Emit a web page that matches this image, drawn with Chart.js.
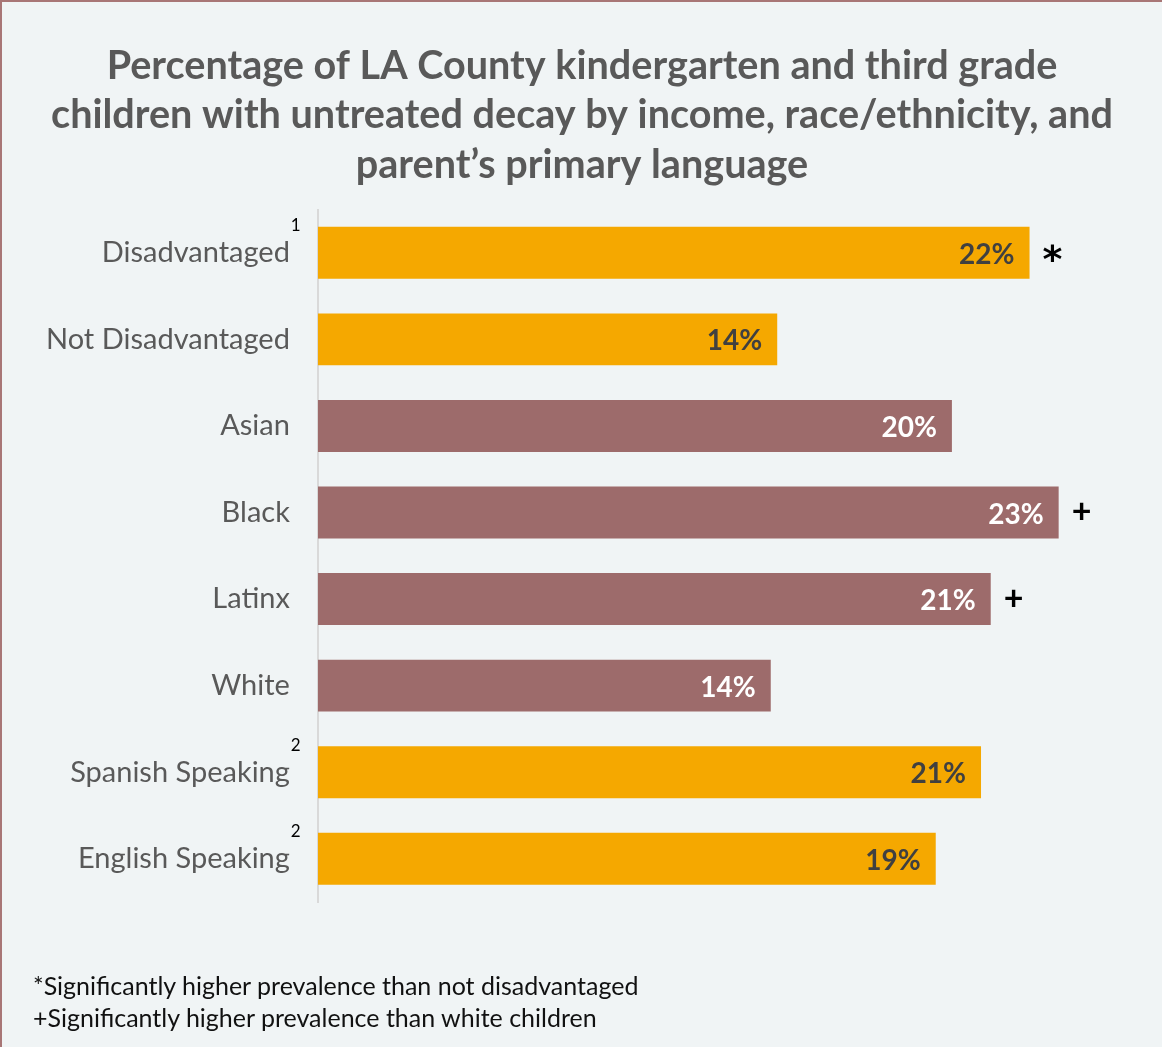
<!DOCTYPE html>
<html>
<head>
<meta charset="utf-8">
<script src="https://cdn.jsdelivr.net/npm/chart.js@4/dist/chart.umd.min.js"></script>
<style>
    html, body { margin: 0; padding: 0; }
    body { width: 1162px; height: 1047px; overflow: hidden; }
    #frame {
        position: relative;
        width: 1160px; height: 1045px;
        background: #f0f4f5;
        border-left: 2px solid #a87676;
        border-top: 2px solid #a87676;
    }
    #grafica { position: absolute; left: 0; top: 0; }
    .nota {
        position: absolute; left: 31px;
        font-family: Lato, "Open Sans", sans-serif;
        font-size: 25px; color: #111;
    }
</style>
</head>
<body>
<div id="frame">
    <canvas id="grafica" width="1160" height="1045"></canvas>
    <div class="nota" style="top:968px">*Significantly higher prevalence than not disadvantaged</div>
    <div class="nota" style="top:1000px">+Significantly higher prevalence than white children</div>
</div>
<script>
const categorias = ['Disadvantaged', 'Not Disadvantaged', 'Asian', 'Black', 'Latinx', 'White', 'Spanish Speaking', 'English Speaking'];
const grupos = ['income', 'income', 'race', 'race', 'race', 'race', 'language', 'language'];
const valores = [22.0, 14.2, 19.6, 22.9, 20.8, 14.0, 20.5, 19.1];
const etiquetas = ['22%', '14%', '20%', '23%', '21%', '14%', '21%', '19%'];
const superindices = ['1', '', '', '', '', '', '2', '2'];
const marcas = ['*', '', '', '+', '+', '', '', ''];
const titulo = [
    'Percentage of LA County kindergarten and third grade',
    'children with untreated decay by income, race/ethnicity, and',
    'parent\u2019s primary language'
];

const FUENTE = 'Lato, "Open Sans", sans-serif';
const colorGrupo = { income: '#f5a800', race: '#9d6b6b', language: '#f5a800' };
const colorTexto = { income: '#404040', race: '#ffffff', language: '#404040' };

// Etiquetas de valor, marcas de significancia y superindices
const anotaciones = {
    id: 'anotaciones',
    afterDatasetsDraw(chart) {
        const ctx = chart.ctx;
        const meta = chart.getDatasetMeta(0);
        const yScale = chart.scales.y;
        ctx.save();
        meta.data.forEach((bar, i) => {
            ctx.textBaseline = 'middle';
            ctx.font = 'bold 28px ' + FUENTE;
            ctx.fillStyle = colorTexto[grupos[i]];
            ctx.textAlign = 'right';
            ctx.fillText(etiquetas[i], bar.x - 15, bar.y + 2);
            if (marcas[i]) {
                ctx.fillStyle = '#000';
                ctx.textAlign = 'left';
                if (marcas[i] === '*') {
                    ctx.font = 'bold 38px "DejaVu Sans", sans-serif';
                    ctx.fillText(marcas[i], bar.x + 13, bar.y + 9);
                } else {
                    ctx.font = 'bold 34px ' + FUENTE;
                    ctx.fillText(marcas[i], bar.x + 13, bar.y);
                }
            }
            if (superindices[i]) {
                ctx.fillStyle = '#000';
                ctx.textAlign = 'left';
                ctx.font = '17px ' + FUENTE;
                ctx.fillText(superindices[i], yScale.right - 27, yScale.getPixelForValue(i) - 27);
            }
        });
        ctx.restore();
    }
};

new Chart(document.getElementById('grafica').getContext('2d'), {
    type: 'bar',
    data: {
        labels: categorias,
        datasets: [{
            data: valores,
            backgroundColor: grupos.map(g => colorGrupo[g]),
            borderWidth: 0,
            barPercentage: 0.6,
            categoryPercentage: 1
        }]
    },
    options: {
        indexAxis: 'y',
        responsive: false,
        animation: false,
        layout: { padding: { left: 16, right: 16, top: 0, bottom: 145 } },
        plugins: {
            legend: { display: false },
            tooltip: { enabled: false },
            title: {
                display: true,
                text: titulo,
                color: '#595959',
                font: { family: FUENTE, size: 39.6, weight: 'bold', lineHeight: 1.25 },
                padding: { top: 39, bottom: 20 }
            }
        },
        scales: {
            x: { display: false, min: 0, max: 25.6 },
            y: {
                grid: { display: false, drawTicks: false },
                border: { display: true, color: '#d9d9d9', width: 2 },
                ticks: {
                    color: '#595959',
                    font: { family: FUENTE, size: 29 },
                    padding: 28
                }
            }
        }
    },
    plugins: [anotaciones]
});
</script>
</body>
</html>
